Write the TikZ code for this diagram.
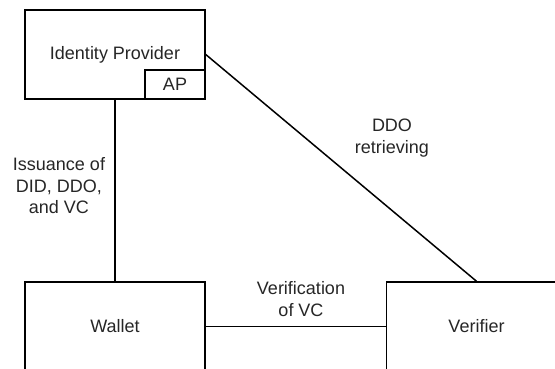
\documentclass[tikz,border=0pt]{standalone}
\usepackage{fontspec}
\setmainfont{Liberation Sans}
\usetikzlibrary{calc, shapes, arrows}

\begin{document}
\begin{tikzpicture}[x=1pt, y=-1pt,
  box/.style={draw, line width=1.5pt, rectangle, minimum width=180pt, minimum height=89pt, inner sep=0pt, font=\mylabelfont, text=black!85},
  smallbox/.style={draw, line width=1.5pt, rectangle, minimum width=60pt, minimum height=29pt, inner sep=0pt, font=\mylabelfont, text=black!85},
  lbl/.style={align=center, inner sep=0pt, font=\mylabelfont, text=black!85}]
\newcommand{\mylabelfont}{\fontsize{18}{21.5}\selectfont}%
%Outer frame, boxes run past the border
\clip (0,0) rectangle (555,369);
%Identity provider on top
\coordinate (cIdp) at (115,54.5);
\node [box] (idp) at (cIdp) {Identity Provider};
\node [smallbox] (ap) at (175,84.5) {AP};
%Wallet and verifier at the bottom
\coordinate (cWallet) at (115,326.5);
\coordinate (cVerifier) at (476.5,326.5);
\node [box] (wallet) at (cWallet) {Wallet};
\node [box] (verifier) at (cVerifier) {Verifier};
%Connections
\draw [line width=1.5pt] (idp.south) -- (wallet.north);
\draw [line width=1.5pt] (idp.east) -- (verifier.north);
\draw [line width=1.5pt] (wallet.east) -- (verifier.west);
%Edge labels
\node [lbl] (issuance) at (59,186) {Issuance of\\DID, DDO,\\and VC};
\node [lbl] (retrieving) at (392,138) {DDO\\retrieving};
\node [lbl] (verification) at (301,299) {Verification\\of VC};
\end{tikzpicture}
\end{document}
